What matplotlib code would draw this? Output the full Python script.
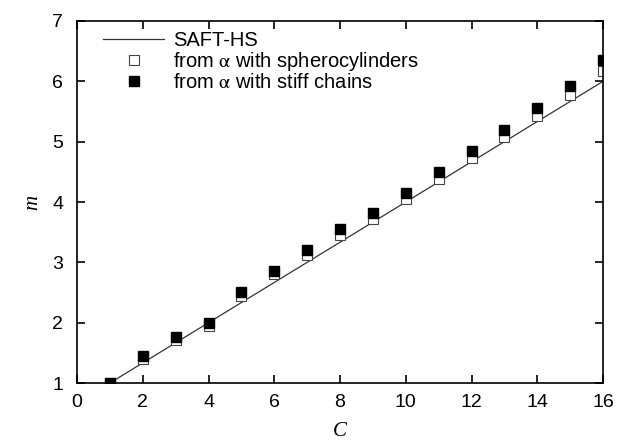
import matplotlib
matplotlib.use('Agg')
import matplotlib.pyplot as plt

# chain length C and effective segment number m
C = [1, 2, 3, 4, 5, 6, 7, 8, 9, 10, 11, 12, 13, 14, 15, 16]
m_sphero = [1.00, 1.40, 1.72, 1.94, 2.45, 2.80, 3.12, 3.45, 3.72, 4.05, 4.38, 4.73, 5.07, 5.42, 5.77, 6.17]
m_stiff = [1.00, 1.45, 1.76, 1.99, 2.51, 2.86, 3.20, 3.55, 3.81, 4.15, 4.50, 4.85, 5.20, 5.56, 5.93, 6.35]

# SAFT-HS straight line end points
C_saft = [1, 16]
m_saft = [1, 6]

plt.rcParams['font.family'] = ['Liberation Sans', 'DejaVu Sans']
plt.rcParams['mathtext.fontset'] = 'stix'

fig = plt.figure(figsize=(6.19, 4.43), dpi=100)
ax = fig.add_axes([0.1244, 0.1354, 0.8498, 0.8172])

ax.plot(C_saft, m_saft, color='#333333', lw=0.9, label='SAFT-HS')
ax.plot(C, m_sphero, ls='none', marker='s', ms=7.3, mfc='white', mec='#444444', mew=0.8,
        label=r'from $\mathrm{\alpha}$ with spherocylinders')
ax.plot(C, m_stiff, ls='none', marker='s', ms=7.3, mfc='black', mec='black',
        label=r'from $\mathrm{\alpha}$ with stiff chains')

ax.set_xlim(0, 16)
ax.set_ylim(1, 7)
ax.set_xticks(range(0, 17, 2))
ax.set_yticks(range(1, 8))
ax.tick_params(direction='in', top=True, right=True, length=6, width=1.2, labelsize=14)
ax.tick_params(axis='x', pad=8)
ax.tick_params(axis='y', pad=10)
for s in ax.spines.values():
    s.set_linewidth(1.2)

ax.set_xlabel('C', fontsize=15, family='Liberation Serif', style='italic', labelpad=8)
ax.set_ylabel('m', fontsize=15, family='Liberation Serif', style='italic', rotation=90, labelpad=7)

ax.legend(loc='upper left', frameon=False, fontsize=14.5, handlelength=3.0, handletextpad=0.45,
          labelspacing=0.0, borderaxespad=0.0, bbox_to_anchor=(0.035, 0.995))

fig.savefig('out.png', dpi=100)
